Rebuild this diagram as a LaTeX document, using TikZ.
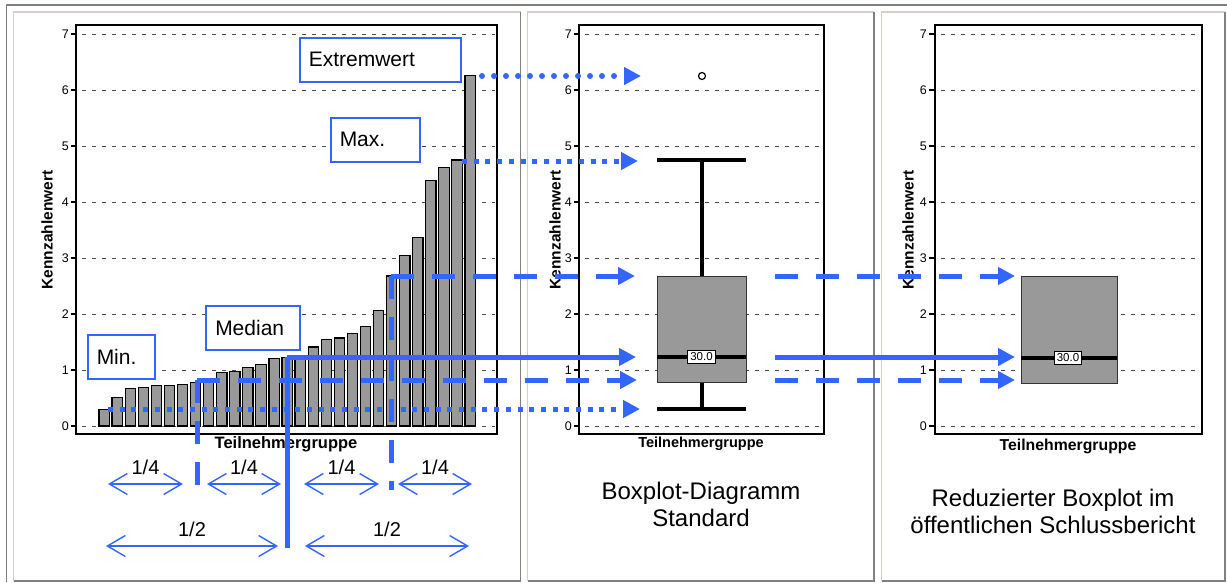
\documentclass[tikz,border=0pt]{standalone}
\usepackage{fontspec}
\setmainfont{Liberation Sans}
\usepackage{tikz}
\usetikzlibrary{arrows.meta}
\definecolor{bblue}{RGB}{51,102,255}
\definecolor{barg}{RGB}{153,153,153}
\definecolor{frmg}{RGB}{128,128,128}
\definecolor{frml}{RGB}{212,208,200}

\begin{document}
\begin{tikzpicture}[x=1pt,y=-1pt,
	lbl/.style={draw=bblue,line width=1.5pt,fill=white,align=left,inner xsep=9pt,
		minimum height=44pt,anchor=north west,font=\fontsize{21}{25}\selectfont},
	tl/.style={anchor=east,inner sep=0pt,font=\fontsize{12.5}{14}\selectfont},
	grid/.style={black!70,line width=0.8pt,dash pattern=on 4pt off 6pt},
	bar/.style={draw=black,line width=1.2pt,fill=barg},
	boxs/.style={draw=black!80,line width=1pt,fill=barg},
	whisk/.style={line width=4pt},
	ylab/.style={rotate=90,font=\fontsize{15.5}{18}\bfseries},
	val/.style={draw=black,fill=white,line width=0.8pt,inner sep=2.5pt,font=\fontsize{11.5}{13}\selectfont},
	ttl/.style={align=center,font=\fontsize{24}{27}\selectfont},
	rdot/.style={line width=6pt,line cap=round,dash pattern=on 0pt off 12pt},
	sdot/.style={line width=5pt,dash pattern=on 5pt off 6.7pt},
	dsh/.style={line width=5pt,dash pattern=on 23pt off 18pt},
	sld/.style={line width=5pt}]
	\useasboundingbox (0,0) rectangle (1227,582);
	% table frame
	\draw[frmg,line width=1.5pt] (6.5,582) -- (6.5,5) -- (1227,5);
	\foreach \a/\b in {13.5/520.5,527.5/874,881.5/1225}{
		\draw[frml,line width=1.3pt] (\a,581) -- (\a,12) -- (\b,12);
		\draw[frmg,line width=1.5pt] (\b,12) -- (\b,581) -- (\a,581);
	}
	% plot areas
	\draw[line width=1.8pt] (76,25) rectangle (497,434);
	\draw[line width=1.6pt] (579,25) rectangle (824,434);
	\draw[line width=1.8pt] (935,25) rectangle (1202,434);
	\foreach \v in {0,...,7}{
		\draw[grid] (82,{426-56*\v}) -- (495,{426-56*\v});
		\draw[grid] (585,{426-56*\v}) -- (822,{426-56*\v});
		\draw[grid] (941,{426-56*\v}) -- (1200,{426-56*\v});
		\draw[line width=1.5pt] (71,{426-56*\v}) -- (77,{426-56*\v});
		\draw[line width=1.5pt] (574,{426-56*\v}) -- (580,{426-56*\v});
		\draw[line width=1.5pt] (929,{426-56*\v}) -- (935,{426-56*\v});
		\node[tl] (tA\v) at (69,{426-56*\v}) {\v};
		\node[tl] (tB\v) at (572,{426-56*\v}) {\v};
		\node[tl] (tC\v) at (927,{426-56*\v}) {\v};
	}
	% bars
	\foreach \v [count=\i] in {0.30,0.51,0.67,0.69,0.72,0.73,0.74,0.78,0.85,0.95,
		0.98,1.04,1.10,1.21,1.23,1.25,1.41,1.55,1.57,1.65,1.77,2.06,2.68,3.04,3.37,
		4.39,4.61,4.75,6.26}
		\draw[bar] ({99+13.07*(\i-1)},426) rectangle ++(10.3,{-56*\v});
	% box plot
	\draw[whisk] (702,160) -- (702,276);
	\draw[whisk] (657,160) -- (746,160);
	\draw[whisk] (702,382) -- (702,409);
	\draw[whisk] (657,409) -- (746,409);
	\draw[boxs] (657,276) rectangle (746,382);
	\draw[line width=3.5pt] (657,357) -- (746,357);
	\node[val] (nB) at (701.5,357) {30.0};
	\draw[line width=1.2pt] (702,76) circle[radius=3.5pt];
	% reduced box plot
	\draw[boxs] (1021,276) rectangle (1117,383);
	\draw[line width=3.5pt] (1021,358) -- (1117,358);
	\node[val] (nC) at (1068,358) {30.0};
	% axis titles
	\node[ylab] (yA) at (47,230) {Kennzahlenwert};
	\node[ylab] (yB) at (555,230) {Kennzahlenwert};
	\node[ylab] (yC) at (908,230) {Kennzahlenwert};
	\node[font=\fontsize{16.5}{19}\bfseries] (xA) at (286,444) {Teilnehmergruppe};
	\node[font=\fontsize{14.5}{17}\bfseries] (xB) at (701,444) {Teilnehmergruppe};
	\node[font=\fontsize{15.8}{18}\bfseries] (xC) at (1068,446) {Teilnehmergruppe};
	% captions
	\node[ttl] (tB) at (701,504) {Boxplot-Diagramm\\Standard};
	\node[ttl] (tC) at (1053,511) {Reduzierter Boxplot im\\öffentlichen Schlussbericht};
	% points
	\coordinate (Ext) at (482,76);
	\coordinate (Ext') at (641,76);
	\coordinate (Max) at (462,161);
	\coordinate (Max') at (638,161);
	\coordinate (Q3) at (391,276);
	\coordinate (Q3') at (635,276);
	\coordinate (Q3'') at (391,490);
	\coordinate (Md) at (287,357);
	\coordinate (Md') at (636,357);
	\coordinate (Md'') at (287,548);
	\coordinate (Q1) at (197,380);
	\coordinate (Q1') at (637,380);
	\coordinate (Q1'') at (197,486);
	\coordinate (Min) at (108,409);
	\coordinate (Min') at (640,409);
	\coordinate (R3) at (775,276);
	\coordinate (R3') at (1015,276);
	\coordinate (Rm) at (775,357);
	\coordinate (Rm') at (1015,357);
	\coordinate (R1) at (775,380);
	\coordinate (R1') at (1015,380);
	%
	\path[bblue]
	% drop lines
	(Q1) edge[dsh] (Q1'')
	(Md) edge[sld] (Md'')
	(Q3) edge[dsh] (Q3'');
	\path[bblue,-{Triangle[length=17pt,width=17pt]}]
	% to the box plot
	(Ext) edge[rdot] (Ext')
	(Max) edge[sdot] (Max')
	(Q3) edge[dsh] (Q3')
	(Md) edge[sld] (Md')
	(Q1) edge[dsh] (Q1')
	(Min) edge[sdot] (Min')
	% to the reduced box plot
	(R3) edge[dsh] (R3')
	(Rm) edge[sld] (Rm')
	(R1) edge[dsh] (R1');
	% labels
	\node[lbl,text width=143pt] (lE) at (299,37) {Extremwert};
	\node[lbl,text width=71pt] (lX) at (330,117) {Max.};
	\node[lbl,text width=75pt,inner xsep=9.5pt] (lM) at (205,305) {Median};
	\node[lbl,text width=49pt] (lN) at (87,334) {Min.};
	% spans
	\coordinate (a) at (108,484); \coordinate (a') at (183,484);
	\coordinate (b) at (207,484); \coordinate (b') at (281,484);
	\coordinate (c) at (304,484); \coordinate (c') at (379,484);
	\coordinate (d) at (398,484); \coordinate (d') at (472,484);
	\coordinate (e) at (106,546); \coordinate (e') at (278,546);
	\coordinate (f) at (305,546); \coordinate (f') at (469,546);
	\path[bblue,line width=1.4pt,<->,>={Straight Barb[length=18pt,width=21pt]},
		font=\fontsize{20}{24}\selectfont,text=black]
	(a) edge node[above=5pt]{1/4} (a')
	(b) edge node[above=5pt]{1/4} (b')
	(c) edge node[above=5pt]{1/4} (c')
	(d) edge node[above=5pt]{1/4} (d')
	(e) edge node[above=5pt]{1/2} (e')
	(f) edge node[above=5pt]{1/2} (f');
\end{tikzpicture}
\end{document}
